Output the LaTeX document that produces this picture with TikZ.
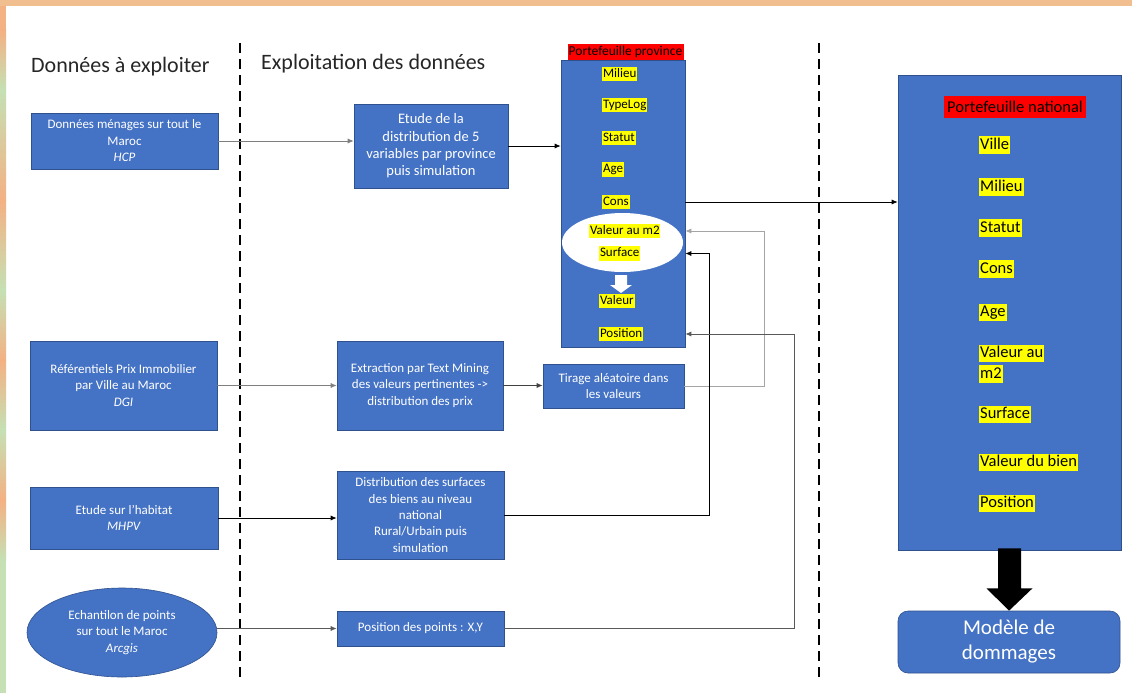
\documentclass[tikz,border=0pt]{standalone}
\usepackage{fontspec}
\setmainfont{Carlito}
\usetikzlibrary{arrows.meta,calc,shapes.geometric}
\definecolor{boxblue}{HTML}{4472C4}
\definecolor{boxline}{HTML}{2F528F}
\definecolor{hlyellow}{HTML}{FFFF00}
\definecolor{hlred}{HTML}{FF0000}
\definecolor{bandO}{HTML}{F4B183}
\definecolor{bandG}{HTML}{C5E0B4}
\definecolor{bandTop}{HTML}{F0BE8F}
\definecolor{lineA}{HTML}{7F7F7F}
\definecolor{lineB}{HTML}{A5A5A5}
\definecolor{lineC}{HTML}{595959}
\definecolor{lineD}{HTML}{404040}
\begin{document}
\begin{tikzpicture}[x=1pt,y=-1pt,
  box/.style={draw=boxline, line width=0.6pt, fill=boxblue, text=white, align=center, inner sep=0pt, font=\fontsize{13}{16.5}\selectfont},
  ylab/.style={fill=hlyellow, inner sep=0.8pt, text=black, anchor=west, text height=9.6pt, text depth=3pt, font=\fontsize{13}{15}\selectfont},
  nlab/.style={fill=hlyellow, inner sep=1pt, text=black, anchor=west, text height=12pt, text depth=3.8pt, font=\fontsize{16.5}{20}\selectfont},
  conn/.style={-{Latex[length=6pt,width=5pt]}, line width=0.8pt},
  divider/.style={line width=2.6pt, dash pattern=on 10pt off 6pt},
  titletext/.style={font=\fontsize{22}{26}\selectfont, anchor=base west, inner sep=0pt, text=black!85}
]
\useasboundingbox (0,0) rectangle (1132,693);
\fill[white] (0,0) rectangle (1132,693);
% left band, orange and green
\fill[bandO] (0,0) rectangle (6,30);
\shade[top color=bandO, bottom color=bandG] (0,30) rectangle (6,90);
\shade[top color=bandG, bottom color=bandO] (0,90) rectangle (6,200);
\shade[top color=bandO, bottom color=bandG] (0,200) rectangle (6,290);
\shade[top color=bandG, bottom color=bandO] (0,290) rectangle (6,360);
\shade[top color=bandO, bottom color=bandG] (0,360) rectangle (6,430);
\shade[top color=bandG, bottom color=bandO] (0,430) rectangle (6,500);
\shade[top color=bandO, bottom color=bandG] (0,500) rectangle (6,560);
\fill[bandG] (0,560) rectangle (6,693);
\fill[bandTop] (0,0) rectangle (1132,6);

% titles
\node[titletext] (t1) at (31,73) {Données à exploiter};
\node[titletext] (t2) at (261,70) {Exploitation des données};

% dividers
\draw[divider] (240,43) -- (240,682);
\draw[divider] (819,43) -- (819,682);

% left column
\node[box, minimum width=187, minimum height=56] (a1) at (124.5,141) {Données ménages sur tout le\\Maroc\\\textit{HCP}};
\node[box, minimum width=187, minimum height=89] (a2) at (123.5,385.5) {Référentiels Prix Immobilier\\par Ville au Maroc\\\textit{DGI}};
\node[box, minimum width=188, minimum height=62] (a3) at (124,518) {Etude sur l'habitat\\\textit{MHPV}};
\node[box, ellipse, minimum width=190, minimum height=89] (a4) at (122,632.5) {Echantilon de points\\sur tout le Maroc\\\textit{Arcgis}};

% middle column
\node[box, minimum width=154, minimum height=84, font=\fontsize{14.5}{17.3}\selectfont] (b1) at (431,146) {Etude de la\\distribution de 5\\variables par province\\puis simulation};
\node[box, minimum width=166, minimum height=89] (b2) at (420,385.5) {Extraction par Text Mining\\des valeurs pertinentes ->\\distribution des prix};
\node[box, minimum width=141, minimum height=44] (c2) at (613.5,386) {Tirage aléatoire dans\\les valeurs};
\node[box, minimum width=167, minimum height=88, font=\fontsize{13}{16.3}\selectfont] (b3) at (420.5,515) {Distribution des surfaces\\des biens au niveau\\national\\Rural/Urbain puis\\simulation};
\node[box, minimum width=167, minimum height=35] (b4) at (420.5,628.5) {Position des points : X,Y};

% province portfolio
\node[box, minimum width=124, minimum height=287] (p) at (623,203.5) {};
\node[fill=hlred, minimum width=116, minimum height=16, inner sep=0pt, font=\fontsize{13.5}{15}\selectfont] (plab) at (625.5,52) {Portefeuille province};
\node[ellipse, fill=white, minimum width=121, minimum height=59, inner sep=0pt] (pell) at (622.5,242.5) {};
\fill[white] (615,275) -- (627,275) -- (627,285) -- (632,285) -- (621,293) -- (610,285) -- (615,285) -- cycle;
\node[ylab] (milieu) at (602,74) {Milieu};
\node[ylab] (typelog) at (602,105) {TypeLog};
\node[ylab] (statut) at (602,138) {Statut};
\node[ylab] (age) at (602,169.5) {Age};
\node[ylab] (cons) at (602,202) {Cons};
\node[ylab] (vm2) at (589,231) {Valeur au m2};
\node[ylab] (surf) at (599,253.5) {Surface};
\node[ylab] (val) at (599,301) {Valeur};
\node[ylab] (pos) at (599,334) {Position};

% national portfolio
\node[box, minimum width=223, minimum height=475] (n) at (1009.5,312.5) {};
\node[fill=hlred, minimum width=142, minimum height=22, inner sep=0pt, font=\fontsize{16.5}{20}\selectfont] (nlabel) at (1015,107) {Portefeuille national};
\node[nlab] (nville) at (979,145) {Ville};
\node[nlab] (nmilieu) at (979,187) {Milieu};
\node[nlab] (nstatut) at (979,228) {Statut};
\node[nlab] (ncons) at (979,269) {Cons};
\node[nlab] (nage) at (979,312.5) {Age};
\node[nlab] (nvau) at (979,353.5) {Valeur au };
\node[nlab] (nm2) at (979,374) {m2};
\node[nlab] (nsurf) at (979,414.5) {Surface};
\node[nlab] (nvdb) at (979,462.5) {Valeur du bien};
\node[nlab] (npos) at (979,503.5) {Position};

% damage model
\node[box, rounded corners=10pt, minimum width=222, minimum height=62, font=\fontsize{21}{25}\selectfont] (m) at (1009,642) {Modèle de\\dommages};
\fill[black] ($(n.south)+(-11.5,-2)$) -- ($(n.south)+(11.5,-2)$) -- ($(n.south)+(11.5,38)$) -- ($(n.south)+(23,38)$) -- (m.north) -- ($(n.south)+(-23,38)$) -- ($(n.south)+(-11.5,38)$) -- cycle;

% connectors
\coordinate (k1) at (764,0);
\coordinate (k2) at (709,0);
\coordinate (k3) at (794,0);
\draw[conn, lineA] (a1.east) -- (a1.east -| b1.west);
\draw[conn, black] (b1.east) -- (b1.east -| p.west);
\draw[conn, black] (p.east |- cons) -- (n.west |- cons);
\draw[conn, lineA] (a2.east) -- (a2.east -| b2.west);
\draw[conn, lineD] (b2.east) -- (b2.east -| c2.west);
\draw[conn, black] (a3.east) -- (a3.east -| b3.west);
\draw[conn, lineC] (a4.east |- b4.west) -- (b4.west);
\draw[conn, lineB] (c2.east) -| (k1 |- vm2) -- (p.east |- vm2);
\draw[conn, black] (b3.east) -| (k2 |- surf) -- (p.east |- surf);
\draw[conn, lineC] (b4.east) -| (k3 |- pos) -- (p.east |- pos);
\end{tikzpicture}
\end{document}
